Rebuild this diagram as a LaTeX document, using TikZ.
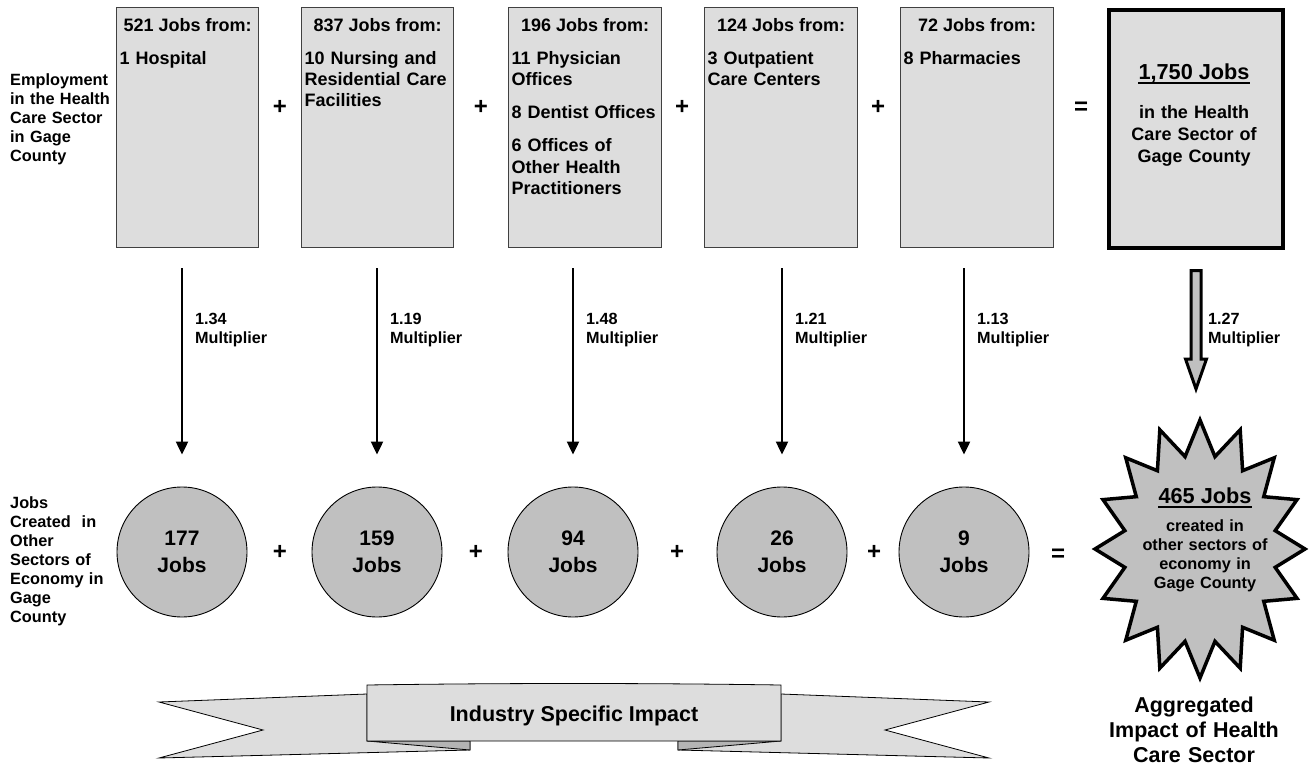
\documentclass[tikz,border=0pt]{standalone}
\usepackage{fontspec}
\setmainfont{Liberation Sans}
\usetikzlibrary{arrows.meta,calc}
\definecolor{boxgray}{HTML}{DDDDDD}
\definecolor{circgray}{HTML}{C0C0C0}
\definecolor{foldgray}{HTML}{B4B4B4}
\definecolor{edgegray}{HTML}{404040}
\newcommand\fs[2]{\fontsize{#1}{#2}\selectfont\bfseries}
\begin{document}
\begin{tikzpicture}[x=1pt,y=-1pt,font=\bfseries,
  box/.style={draw=edgegray,line width=1.2pt,fill=boxgray,rectangle,inner sep=0pt,anchor=north west,minimum height=240pt},
  bigbox/.style={draw=black,line width=4pt,fill=boxgray,rectangle,inner sep=0pt,anchor=north west,minimum width=174pt,minimum height=238pt},
  head/.style={anchor=base,inner sep=0pt,font=\fs{18}{21.5}},
  body/.style={anchor=base west,inner sep=0pt,text width=150pt,align=left,font=\fs{18}{21.5}},
  op/.style={inner sep=0pt,font=\fs{24}{24}},
  lab/.style={anchor=base west,inner sep=0pt,text width=110pt,align=left,font=\fs{16.3}{19}},
  mult/.style={anchor=base west,inner sep=0pt,text width=90pt,align=left,font=\fs{16.2}{19}},
  circ/.style={circle,draw=black,line width=0.9pt,fill=circgray,minimum size=130pt,inner sep=0pt,align=center,font=\fs{21}{27}},
  arr/.style={line width=2.2pt,-{Triangle[length=13pt,width=12pt]}},
  bigarr/.style={draw=black,line width=3pt,fill=circgray,line join=miter},
  starsty/.style={draw=black,line width=3.5pt,fill=circgray,line join=miter},
  ribsty/.style={draw=black,line width=0.8pt,fill=boxgray,line join=miter},
  foldsty/.style={draw=black,line width=0.8pt,fill=foldgray,line join=miter},
  uline/.style={line width=1.7pt}]
\useasboundingbox (0,0) rectangle (1309,768);

% left labels
\node[lab] (l1) at (10,85) {Employment\\in the Health\\Care Sector\\in Gage\\County};
\node[lab] (l2) at (10,508) {Jobs\\Created~ in\\Other\\Sectors of\\Economy in\\Gage\\County};

% top boxes
\node[box,minimum width=142pt] (b1) at (116,7) {};
\node[box,minimum width=152pt] (b2) at (301,7) {};
\node[box,minimum width=153pt] (b3) at (508,7) {};
\node[box,minimum width=153pt] (b4) at (704,7) {};
\node[box,minimum width=153pt] (b5) at (900,7) {};
\node[bigbox] (b6) at (1107,8) {};

\node[head] (h1) at ($(b1.north)+(0,25)$) {521 Jobs from:};
\node[head] (h2) at ($(b2.north)+(0,25)$) {837 Jobs from:};
\node[head] (h3) at ($(b3.north)+(0,25)$) {196 Jobs from:};
\node[head] (h4) at ($(b4.north)+(0,25)$) {124 Jobs from:};
\node[head] (h5) at ($(b5.north)+(0,25)$) {72 Jobs from:};

\node[body] (t1) at ($(b1.north west)+(3.5,57)$) {1 Hospital};
\node[body] (t2) at ($(b2.north west)+(3.5,57)$) {10 Nursing and\\Residential Care\\Facilities};
\node[body] (t3) at ($(b3.north west)+(3.5,57)$) {11 Physician\\Offices\\[11.5pt]8 Dentist Offices\\[11.5pt]6 Offices of\\Other Health\\Practitioners};
\node[body] (t4) at ($(b4.north west)+(3.5,57)$) {3 Outpatient\\Care Centers};
\node[body] (t5) at ($(b5.north west)+(3.5,57)$) {8 Pharmacies};

\node[anchor=base,inner sep=0pt,font=\fs{21.7}{26}] (t6a) at (1194,79) {1,750 Jobs};
\draw[uline] ($(t6a.base west)+(0,4)$) -- ($(t6a.base east)+(0,4)$);
\node[anchor=base,inner sep=0pt,text width=170pt,align=center,font=\fs{18}{22}] (t6b) at (1194,118) {in the Health\\Care Sector of\\Gage County};

\node[op] (p1) at (280,107) {+};
\node[op] (p2) at (481,107) {+};
\node[op] (p3) at (682,107) {+};
\node[op] (p4) at (878,107) {+};
\node[op] (e1) at (1081,108) {=};

% circles
\node[circ] (c1) at (182,552) {177\\Jobs};
\node[circ] (c2) at (377,552) {159\\Jobs};
\node[circ] (c3) at (573,552) {94\\Jobs};
\node[circ] (c4) at (782,552) {26\\Jobs};
\node[circ] (c5) at (964,552) {9\\Jobs};

\node[op] (q1) at (280,552) {+};
\node[op] (q2) at (476,552) {+};
\node[op] (q3) at (677,552) {+};
\node[op] (q4) at (874,552) {+};
\node[op] (e2) at (1058,555) {=};

% arrows
\foreach \b/\c in {b1/c1,b2/c2,b3/c3,b4/c4,b5/c5}{
  \draw[arr] ($(\b.south -| \c.center)+(0,20)$) -- ($(\c.north)+(0,-32)$);
}
\node[mult] (m1) at ($(c1.center |- 0,324)+(13,0)$) {1.34\\Multiplier};
\node[mult] (m2) at ($(c2.center |- 0,324)+(13,0)$) {1.19\\Multiplier};
\node[mult] (m3) at ($(c3.center |- 0,324)+(13,0)$) {1.48\\Multiplier};
\node[mult] (m4) at ($(c4.center |- 0,324)+(13,0)$) {1.21\\Multiplier};
\node[mult] (m5) at ($(c5.center |- 0,324)+(13,0)$) {1.13\\Multiplier};

% big arrow
\coordinate (ba0) at ($(b6.south)+(0,20.5)$);
\coordinate (ba1) at ($(b6.south)+(0,139)$);
\draw[bigarr] (ba0) ++(-5,0) -- ++(10,0) -- ++(0,88.5) -- ++(5.5,0) -- (ba1) -- ++(-10.5,-30) -- ++(5.5,0) -- cycle;
\node[mult] (m6) at (1208,324) {1.27\\Multiplier};

% star
\draw[starsty,shift={(1200,549)}] (90:105 and 129)
  \foreach \k in {1,...,31}{ -- ({90+11.25*\k}:{105*(1-0.27*mod(\k,2))} and {129*(1-0.27*mod(\k,2))}) } -- cycle;
\node[anchor=base,inner sep=0pt,font=\fs{21.7}{26}] (s1) at (1205,503) {465 Jobs};
\draw[uline] ($(s1.base west)+(0,4)$) -- ($(s1.base east)+(0,4)$);
\node[anchor=base,inner sep=0pt,text width=150pt,align=center,font=\fs{16.3}{19}] (s2) at (1205,531) {created in\\other sectors of\\economy in\\Gage County};

% ribbon
\draw[ribsty] (367,694) -- (159,702) -- (263,730) -- (159,758) -- (470,750) -- (470,741) -- (367,741) -- cycle;
\draw[foldsty] (367,741) -- (470,741) -- (470,750) -- cycle;
\draw[ribsty] (781,694) -- (989,702) -- (885,730) -- (989,758) -- (678,750) -- (678,741) -- (781,741) -- cycle;
\draw[foldsty] (781,741) -- (678,741) -- (678,750) -- cycle;
\draw[ribsty] (367,685) .. controls (505,683) and (643,683) .. (781,685) -- (781,741) -- (367,741) -- cycle;
\node[anchor=base,inner sep=0pt,font=\fs{21.5}{25}] (rib) at (574,721) {Industry Specific Impact};

\node[anchor=base,inner sep=0pt,text width=200pt,align=center,font=\fs{21.5}{25}] (agg) at (1194,712) {Aggregated\\Impact of Health\\Care Sector};
\end{tikzpicture}
\end{document}
